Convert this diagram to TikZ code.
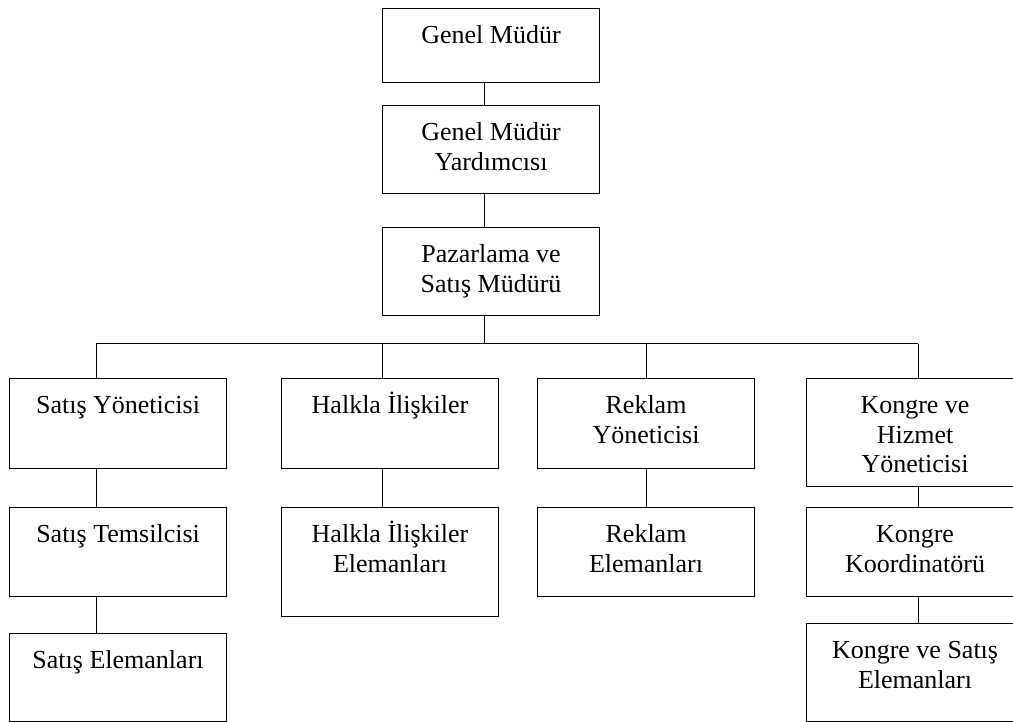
\documentclass[tikz,border=0pt]{standalone}
\usepackage{fontspec}
\setmainfont{Liberation Serif}
\newcommand{\orgtext}[2]{\parbox[t][#1][t]{217pt}{\centering\fontsize{26}{29.5}\selectfont\rule{0pt}{35pt}#2}}
\tikzset{
  orgbox/.style={draw, line width=1.1pt, inner sep=0pt, anchor=north west},
  link/.style={draw, line width=1pt}
}
\begin{document}
\begin{tikzpicture}[x=1pt, y=-1pt]
\useasboundingbox (0,0) rectangle (1013,722);
\clip (0,0) rectangle (1013,722);

% top chain
\node[orgbox] (gm)  at (382,8)   {\orgtext{74pt}{Genel Müdür}};
\node[orgbox] (gmy) at (382,105) {\orgtext{88pt}{Genel Müdür\\Yardımcısı}};
\node[orgbox] (pm)  at (382,227) {\orgtext{88pt}{Pazarlama ve\\Satış Müdürü}};

% second level
\node[orgbox] (sy) at (9,378)   {\orgtext{90pt}{Satış Yöneticisi}};
\node[orgbox] (hi) at (281,378) {\orgtext{90pt}{Halkla İlişkiler}};
\node[orgbox] (ry) at (537,378) {\orgtext{90pt}{Reklam\\Yöneticisi}};
\node[orgbox] (ky) at (806,378) {\orgtext{108pt}{Kongre ve\\Hizmet\\Yöneticisi}};

% third level
\node[orgbox] (st) at (9,507)   {\orgtext{89pt}{Satış Temsilcisi}};
\node[orgbox] (he) at (281,507) {\orgtext{109pt}{Halkla İlişkiler\\Elemanları}};
\node[orgbox] (re) at (537,507) {\orgtext{89pt}{Reklam\\Elemanları}};
\node[orgbox] (kk) at (806,507) {\orgtext{89pt}{Kongre\\Koordinatörü}};

% fourth level
\node[orgbox] (se) at (9,633)   {\orgtext{88pt}{Satış Elemanları}};
\node[orgbox] (ks) at (806,623) {\orgtext{98pt}{Kongre ve Satış\\Elemanları}};

% bus
\coordinate (busL) at (96,344);
\coordinate (busR) at (918,344);
\coordinate (spine) at (484,344);
\coordinate (hx) at (382,344);

\draw[link] (gm.south -| spine) -- (gmy.north -| spine);
\draw[link] (gmy.south -| spine) -- (pm.north -| spine);
\draw[link] (pm.south -| spine) -- (spine);
\draw[link] (busL) -- (busR);

\draw[link] (busL) -- (busL |- sy.north);
\draw[link] (hx) -- (hx |- hi.north);
\draw[link] (busL -| ry.north) -- (ry.north);
\draw[link] (busR) -- (busR |- ky.north);

\draw[link] (sy.south -| busL) -- (st.north -| busL);
\draw[link] (st.south -| busL) -- (se.north -| busL);
\draw[link] (hi.south -| hx) -- (he.north -| hx);
\draw[link] (ry.south) -- (re.north);
\draw[link] (ky.south -| busR) -- (kk.north -| busR);
\draw[link] (kk.south -| busR) -- (ks.north -| busR);
\end{tikzpicture}
\end{document}
